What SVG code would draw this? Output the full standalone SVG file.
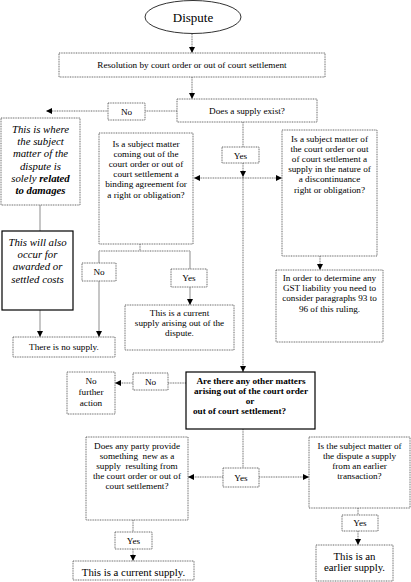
<svg xmlns="http://www.w3.org/2000/svg" width="411" height="582" viewBox="0 0 411 582">
<defs>
<marker id="ah" markerWidth="7" markerHeight="6" refX="6" refY="3" orient="auto" markerUnits="userSpaceOnUse"><path d="M0,0 L6,3 L0,6 z" fill="#000"/></marker>
</defs>
<style>
text{font-family:"Liberation Serif","Times New Roman",serif;font-size:9.2px;fill:#000;text-anchor:middle}
.d{fill:#fff;stroke:#666;stroke-width:1;stroke-dasharray:1 0.7}
.s{fill:#fff;stroke:#000;stroke-width:1.2}
.c{fill:none;stroke:#666;stroke-width:1;stroke-dasharray:1 0.7}
.g{fill:none;stroke:#b8b8b8;stroke-width:1.6}
.it{font-style:italic;font-size:10.8px}
.b{font-weight:bold}
.big{font-size:10.8px}
</style>
<rect width="411" height="582" fill="#fff"/>
<g id="connectors">
<line class="c" x1="192" y1="34" x2="192" y2="53" marker-end="url(#ah)"/>
<line class="c" x1="192" y1="77" x2="192" y2="99" marker-end="url(#ah)"/>
<line class="c" x1="177" y1="111" x2="46" y2="111" marker-end="url(#ah)"/>
<line class="g" x1="40" y1="205" x2="40" y2="231"/>
<line class="g" x1="40" y1="310" x2="40" y2="337" marker-end="url(#ah)"/>
<line class="c" x1="140" y1="244" x2="140" y2="251"/>
<line class="c" x1="99" y1="251" x2="190" y2="251"/>
<line class="g" x1="99" y1="251" x2="99" y2="337" marker-end="url(#ah)"/>
<line class="g" x1="190" y1="251" x2="190" y2="269"/>
<line class="g" x1="190" y1="287" x2="190" y2="305" marker-end="url(#ah)"/>
<line class="c" x1="243" y1="122" x2="243" y2="147"/>
<line class="c" x1="243" y1="163" x2="243" y2="177" marker-end="url(#ah)"/>
<line class="c" x1="243" y1="177" x2="243" y2="372" marker-end="url(#ah)"/>
<line class="c" x1="243" y1="178" x2="194" y2="178" marker-end="url(#ah)"/>
<line class="c" x1="243" y1="178" x2="282" y2="178" marker-end="url(#ah)"/>
<line class="c" x1="320" y1="256" x2="320" y2="270" marker-end="url(#ah)"/>
<line class="c" x1="186" y1="383" x2="115" y2="383" marker-end="url(#ah)"/>
<line class="c" x1="243" y1="429" x2="243" y2="468"/>
<line class="c" x1="223" y1="477" x2="188" y2="477" marker-end="url(#ah)"/>
<line class="c" x1="259" y1="477" x2="309" y2="477" marker-end="url(#ah)"/>
<line class="c" x1="133" y1="520" x2="133" y2="532"/>
<line class="c" x1="133" y1="549" x2="133" y2="561" marker-end="url(#ah)"/>
<line class="c" x1="358" y1="508" x2="358" y2="515"/>
<line class="c" x1="358" y1="531" x2="358" y2="545" marker-end="url(#ah)"/>
</g>
<g id="dispute"><ellipse cx="193" cy="17" rx="48" ry="16.5" fill="#fff" stroke="#333" stroke-width="1"/><text x="193" y="21.5" style="font-size:13px">Dispute</text></g>
<g id="resolution"><rect class="d" x="59" y="53" width="266" height="24"/><text x="192" y="68">Resolution by court order or out of court settlement</text></g>
<g id="supply-exist"><rect class="d" x="177" y="99" width="140" height="23"/><text x="247" y="113.5">Does a supply exist?</text></g>
<g id="no1"><rect class="d" x="108" y="103" width="37" height="17"/><text x="126.5" y="114.5">No</text></g>
<g id="damages"><rect class="d" x="1" y="118" width="79" height="87"/>
<text class="it" x="40.5" y="133">This is where</text>
<text class="it" x="40.5" y="145.2">the subject</text>
<text class="it" x="40.5" y="157.4">matter of the</text>
<text class="it" x="40.5" y="169.6">dispute is</text>
<text class="it" x="40.5" y="181.8">solely <tspan class="b">related</tspan></text>
<text class="it b" x="40.5" y="194">to damages</text></g>
<g id="costs"><rect class="s" x="2" y="231" width="71" height="79"/>
<text class="it" x="37.5" y="246">This will also</text>
<text class="it" x="37.5" y="258.2">occur for</text>
<text class="it" x="37.5" y="270.4">awarded or</text>
<text class="it" x="37.5" y="282.6">settled costs</text></g>
<g id="binding"><rect class="d" x="99" y="133" width="94" height="111"/>
<text x="146" y="146.5">Is a subject matter</text>
<text x="146" y="156.7">coming out of the</text>
<text x="146" y="166.9">court order or out of</text>
<text x="146" y="177.1">court settlement a</text>
<text x="146" y="187.3">binding agreement for</text>
<text x="146" y="197.5">a right or obligation?</text></g>
<g id="no2"><rect class="d" x="82" y="263" width="34" height="18"/><text x="99" y="275">No</text></g>
<g id="yes2"><rect class="d" x="171" y="269" width="36" height="18"/><text x="189" y="281">Yes</text></g>
<g id="current-arising"><rect class="d" x="125" y="305" width="109" height="45"/>
<text x="179.5" y="316">This is a current</text>
<text x="179.5" y="326.2">supply arising out of the</text>
<text x="179.5" y="336.4">dispute.</text></g>
<g id="no-supply"><rect class="d" x="13" y="337" width="102" height="20"/><text x="64" y="350">There is no supply.</text></g>
<g id="yes1"><rect class="d" x="222" y="147" width="37" height="16"/><text x="240.5" y="158.5">Yes</text></g>
<g id="discontinuance"><rect class="d" x="282" y="130" width="95" height="126"/>
<text x="329.5" y="141.5">Is a subject matter of</text>
<text x="329.5" y="151.7">the court order or out</text>
<text x="329.5" y="161.9">of court settlement a</text>
<text x="329.5" y="172.1">supply in the nature of</text>
<text x="329.5" y="182.3">a discontinuance</text>
<text x="329.5" y="192.5">right or obligation?</text></g>
<g id="gst"><rect class="d" x="276" y="270" width="107" height="72"/>
<text x="329.5" y="281">In order to determine any</text>
<text x="329.5" y="291.2">GST liability you need to</text>
<text x="329.5" y="301.4">consider paragraphs 93 to</text>
<text x="329.5" y="311.6">96 of this ruling.</text></g>
<g id="other-matters"><rect class="s" x="186" y="372" width="129" height="57"/>
<text class="b" x="251" y="383.5">Are there any other matters</text>
<text class="b" x="251" y="393.5">arising out of the court order</text>
<text class="b" x="250" y="403.5">or</text>
<text class="b" x="193" y="413.5" style="text-anchor:start">out of court settlement?</text></g>
<g id="no3"><rect class="d" x="133" y="373" width="35" height="17"/><text x="150.5" y="384.5">No</text></g>
<g id="no-action"><rect class="d" x="67" y="372" width="48" height="42"/>
<text x="91" y="384">No</text>
<text x="91" y="395">further</text>
<text x="91" y="406">action</text></g>
<g id="yes3"><rect class="d" x="223" y="468" width="36" height="19"/><text x="241" y="480.5">Yes</text></g>
<g id="new-supply"><rect class="d" x="86" y="437" width="102" height="83"/>
<text x="137" y="448.5" xml:space="preserve">Does any party provide</text>
<text x="137" y="458.7" xml:space="preserve">something  new as a</text>
<text x="137" y="468.9" xml:space="preserve">supply  resulting from</text>
<text x="137" y="479.1">the court order or out of</text>
<text x="137" y="489.3">court settlement?</text></g>
<g id="yes4"><rect class="d" x="115" y="532" width="37" height="17"/><text x="133.5" y="543.5">Yes</text></g>
<g id="current-supply"><rect class="d" x="73" y="561" width="121" height="19"/><text class="big" x="133.5" y="576">This is a current supply.</text></g>
<g id="earlier-transaction"><rect class="d" x="309" y="437" width="101" height="71"/>
<text x="359.5" y="448.5">Is the subject matter of</text>
<text x="359.5" y="458.7">the dispute a supply</text>
<text x="359.5" y="468.9">from an earlier</text>
<text x="359.5" y="479.1">transaction?</text></g>
<g id="yes5"><rect class="d" x="342" y="515" width="36" height="16"/><text x="360" y="526">Yes</text></g>
<g id="earlier-supply"><rect class="d" x="316" y="545" width="77" height="36"/>
<text class="big" x="354.5" y="559.5">This is an</text>
<text class="big" x="354.5" y="571">earlier supply.</text></g>
</svg>
